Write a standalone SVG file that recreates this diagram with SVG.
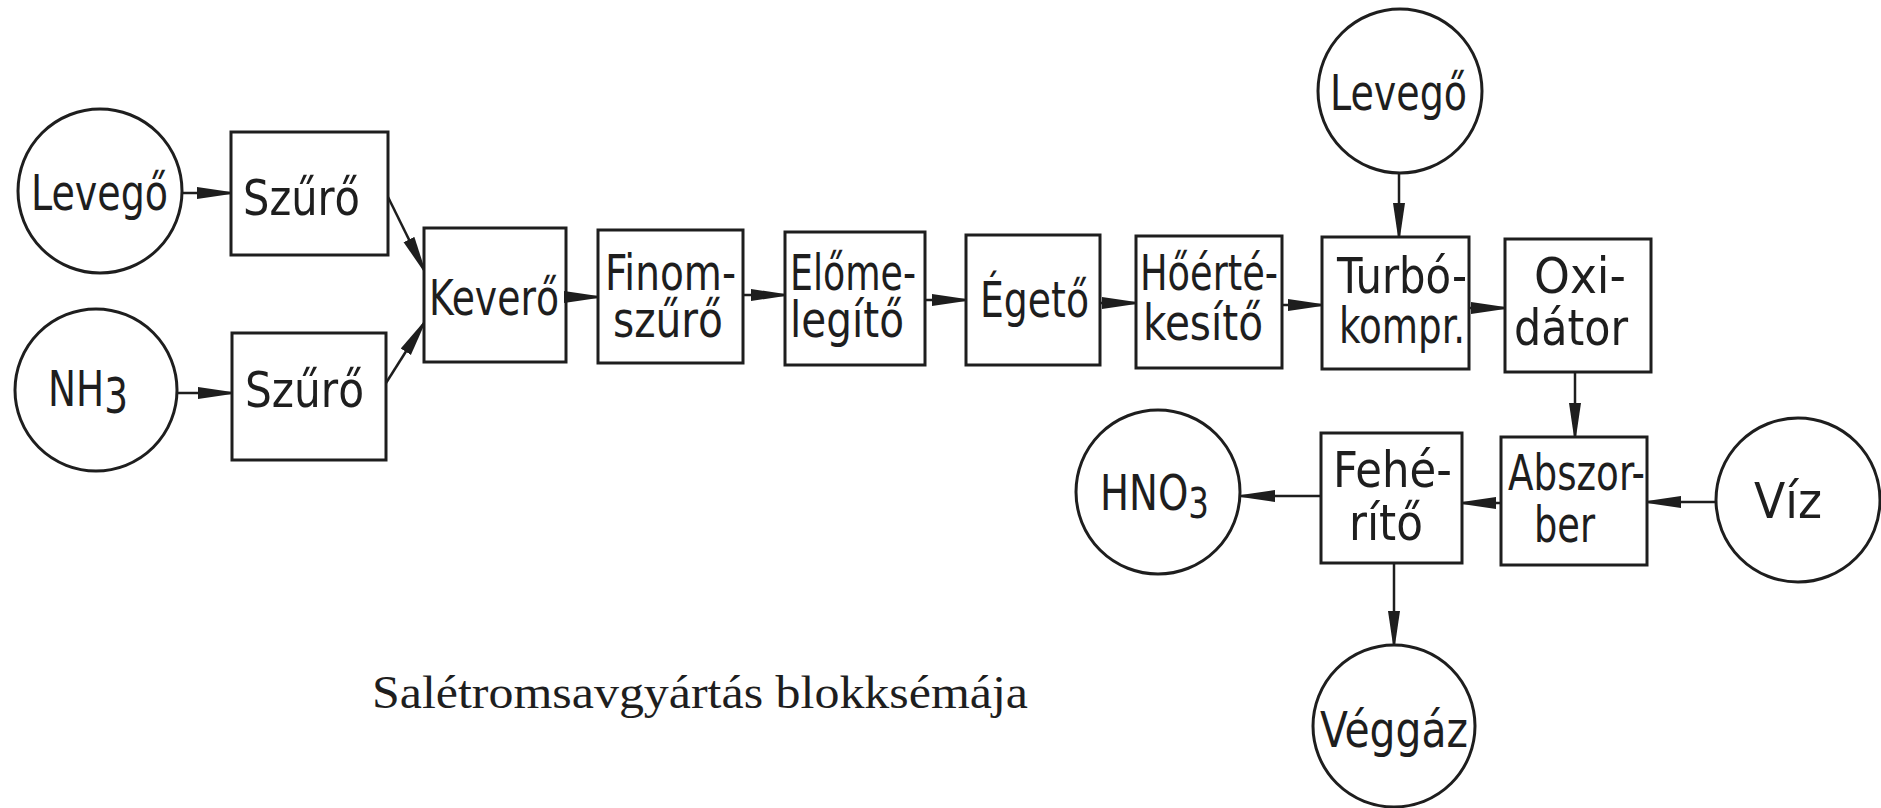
<svg xmlns="http://www.w3.org/2000/svg" width="1881" height="808" viewBox="0 0 1881 808">
<defs>
<style>
.n rect, .n circle { fill: none; stroke: #1e1e1e; stroke-width: 3; }
.t { font-family: "Liberation Sans Narrow", "DejaVu Sans Condensed", "Liberation Sans", sans-serif; font-size: 50px; fill: #1e1e1e; }
.c line { stroke: #1e1e1e; stroke-width: 2.5; marker-end: url(#ah); }
.cap { font-family: "Liberation Serif", serif; font-size: 46px; fill: #1e1e1e; }
</style>
<marker id="ah" markerUnits="userSpaceOnUse" markerWidth="36" markerHeight="14" refX="34" refY="7" orient="auto">
<path d="M0,1 L34,6 L34,8 L0,13 Z" fill="#1e1e1e"/>
</marker>
</defs>
<rect width="1881" height="808" fill="#ffffff"/>

<g id="connectors" class="c">
<line x1="182" y1="193" x2="231" y2="193"/>
<line x1="177" y1="393" x2="232" y2="393"/>
<line x1="388" y1="197" x2="424" y2="270"/>
<line x1="386" y1="383" x2="424" y2="323"/>
<line x1="566" y1="297" x2="598" y2="297"/>
<line x1="743" y1="295" x2="785" y2="295"/>
<line x1="925" y1="300" x2="966" y2="300"/>
<line x1="1100" y1="303" x2="1136" y2="303"/>
<line x1="1282" y1="305" x2="1322" y2="305"/>
<line x1="1469" y1="308" x2="1505" y2="308"/>
<line x1="1399" y1="173" x2="1399" y2="237"/>
<line x1="1575" y1="372" x2="1575" y2="437"/>
<line x1="1716" y1="502" x2="1647" y2="502"/>
<line x1="1501" y1="503" x2="1462" y2="503"/>
<line x1="1321" y1="496" x2="1241" y2="496"/>
<line x1="1394" y1="563" x2="1394" y2="645"/>
</g>

<g id="levego1" class="n"><circle cx="100" cy="191" r="82"/><text class="t" x="31" y="210" textLength="137" lengthAdjust="spacingAndGlyphs">Levegő</text></g>
<g id="nh3" class="n"><circle cx="96" cy="390" r="81"/><text class="t" x="48" y="406" textLength="80" lengthAdjust="spacingAndGlyphs">NH<tspan dy="7">3</tspan></text></g>
<g id="szuro1" class="n"><rect x="231" y="132" width="157" height="123"/><text class="t" x="243" y="215" textLength="117" lengthAdjust="spacingAndGlyphs">Szűrő</text></g>
<g id="szuro2" class="n"><rect x="232" y="333" width="154" height="127"/><text class="t" x="245" y="407" textLength="119" lengthAdjust="spacingAndGlyphs">Szűrő</text></g>
<g id="kevero" class="n"><rect x="424" y="228" width="142" height="134"/><text class="t" x="429" y="315" textLength="130" lengthAdjust="spacingAndGlyphs">Keverő</text></g>
<g id="finomszuro" class="n"><rect x="598" y="230" width="145" height="133"/><text class="t" x="605" y="290" textLength="131" lengthAdjust="spacingAndGlyphs">Finom-</text><text class="t" x="613" y="337" textLength="110" lengthAdjust="spacingAndGlyphs">szűrő</text></g>
<g id="elomelegito" class="n"><rect x="785" y="232" width="140" height="133"/><text class="t" x="790" y="290" textLength="126" lengthAdjust="spacingAndGlyphs">Előme-</text><text class="t" x="790" y="337" textLength="114" lengthAdjust="spacingAndGlyphs">legítő</text></g>
<g id="egeto" class="n"><rect x="966" y="235" width="134" height="130"/><text class="t" x="980" y="317" textLength="109" lengthAdjust="spacingAndGlyphs">Égető</text></g>
<g id="hoertekesito" class="n"><rect x="1136" y="236" width="146" height="132"/><text class="t" x="1140" y="290" textLength="138" lengthAdjust="spacingAndGlyphs">Hőérté-</text><text class="t" x="1143" y="340" textLength="120" lengthAdjust="spacingAndGlyphs">kesítő</text></g>
<g id="levego2" class="n"><circle cx="1400" cy="91" r="82"/><text class="t" x="1330" y="110" textLength="137" lengthAdjust="spacingAndGlyphs">Levegő</text></g>
<g id="turbokompr" class="n"><rect x="1322" y="237" width="147" height="132"/><text class="t" x="1337" y="293" textLength="130" lengthAdjust="spacingAndGlyphs">Turbó-</text><text class="t" x="1339" y="343" textLength="126" lengthAdjust="spacingAndGlyphs">kompr.</text></g>
<g id="oxidator" class="n"><rect x="1505" y="239" width="146" height="133"/><text class="t" x="1534" y="293" textLength="92" lengthAdjust="spacingAndGlyphs">Oxi-</text><text class="t" x="1514" y="345" textLength="114" lengthAdjust="spacingAndGlyphs">dátor</text></g>
<g id="abszorber" class="n"><rect x="1501" y="437" width="146" height="128"/><text class="t" x="1508" y="490" textLength="137" lengthAdjust="spacingAndGlyphs">Abszor-</text><text class="t" x="1534" y="542" textLength="61" lengthAdjust="spacingAndGlyphs">ber</text></g>
<g id="viz" class="n"><circle cx="1798" cy="500" r="82"/><text class="t" x="1754" y="518" textLength="68" lengthAdjust="spacingAndGlyphs">Víz</text></g>
<g id="feherito" class="n"><rect x="1321" y="433" width="141" height="130"/><text class="t" x="1333" y="487" textLength="119" lengthAdjust="spacingAndGlyphs">Fehé-</text><text class="t" x="1349" y="540" textLength="74" lengthAdjust="spacingAndGlyphs">rítő</text></g>
<g id="hno3" class="n"><circle cx="1158" cy="492" r="82"/><text class="t" x="1100" y="510" textLength="109" lengthAdjust="spacingAndGlyphs">HNO<tspan font-size="42" dy="8">3</tspan></text></g>
<g id="veggaz" class="n"><circle cx="1394" cy="726" r="81"/><text class="t" x="1320" y="747" textLength="148" lengthAdjust="spacingAndGlyphs">Véggáz</text></g>

<text class="cap" x="372" y="708" textLength="656" lengthAdjust="spacingAndGlyphs">Salétromsavgyártás blokksémája</text>
</svg>
